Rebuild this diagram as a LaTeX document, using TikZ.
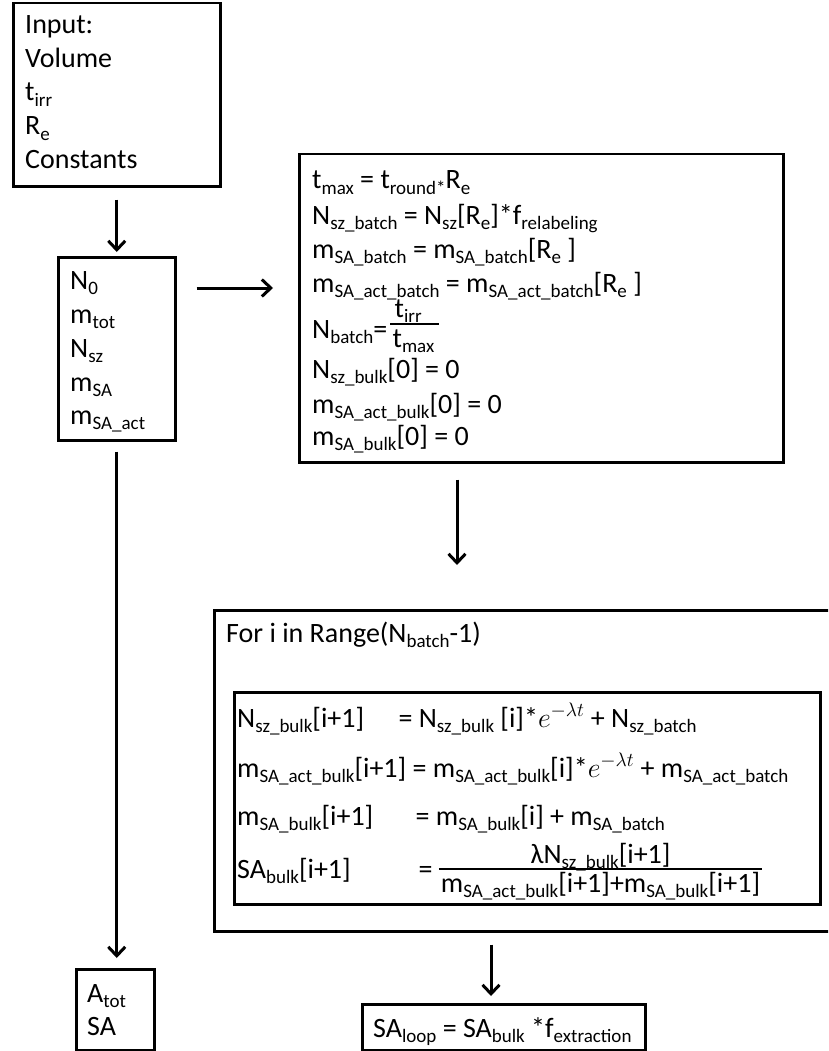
\RequirePackage{fix-cm}
\documentclass[tikz,border=0pt]{standalone}
\usepackage{fontspec}
\setmainfont{Carlito}
\usetikzlibrary{arrows.meta,calc}
\newcommand\sbs[1]{\raisebox{-5.5pt}{\fontsize{19}{19}\selectfont #1}}
\newlength\lhsw
\begin{document}
\settowidth{\lhsw}{\fontsize{28}{34}\selectfont m\sbs{SA\_act\_bulk}[i+1] }
\begin{tikzpicture}[x=1pt,y=-1pt,
  box/.style={draw, line width=2.5pt, rectangle, inner sep=0pt, anchor=north west},
  txt/.style={anchor=base west, inner sep=0pt, font=\fontsize{28}{34}\selectfont},
  arr/.style={line width=3pt, -{Straight Barb[length=9pt,width=17pt]}},
  fracbar/.style={line width=1.3pt}]
\useasboundingbox (0,0) rectangle (828,1051);

% boxes
\node[box, minimum width=207pt, minimum height=183pt] (input) at (12,2) {};
\node[box, minimum width=117pt, minimum height=183pt] (nbox) at (57,256) {};
\node[box, minimum width=484pt, minimum height=308pt] (box3) at (298,153) {};
\begin{scope}
  \clip (0,0) rectangle (828,1051);
  \node[box, minimum width=640pt, minimum height=321pt] (loop) at (213,609) {};
\end{scope}
\node[box, minimum width=586pt, minimum height=212pt] (inner) at (233,691) {};
\node[box, minimum width=78pt, minimum height=81pt] (atot) at (75,968) {};
\node[box, minimum width=283pt, minimum height=46pt] (saloop) at (361,1003) {};

% input text
\node[txt] (in1) at (25,34) {Input:};
\node[txt] (in2) at (25,68) {Volume};
\node[txt] (in3) at (25,101) {t\sbs{irr}};
\node[txt] (in4) at (25,135) {R\sbs{e}};
\node[txt] (in5) at (25,169) {Constants};

% N0 box text
\node[txt] (n1) at (70,289) {N\sbs{0}};
\node[txt] (n2) at (70,323) {m\sbs{tot}};
\node[txt] (n3) at (70,357) {N\sbs{sz}};
\node[txt] (n4) at (70,391) {m\sbs{SA}};
\node[txt] (n5) at (70,424) {m\sbs{SA\_act}};

% box3 text
\node[txt] (b1) at (312,189) {t\sbs{max} = t\sbs{round*}R\sbs{e}};
\node[txt] (b2) at (312,224) {N\sbs{sz\_batch} = N\sbs{sz}[R\sbs{e}]*f\sbs{relabeling}};
\node[txt] (b3) at (312,258) {m\sbs{SA\_batch} = m\sbs{SA\_batch}[R\sbs{e} ]};
\node[txt] (b4) at (312,292) {m\sbs{SA\_act\_batch} = m\sbs{SA\_act\_batch}[R\sbs{e} ]};
\node[txt] (b5) at (312,338) {N\sbs{batch}=};
\node[txt] (b5n) at ($(b5.base east)+(7,-21)$) {t\sbs{irr}};
\node[txt] (b5d) at ($(b5.base east)+(5,9)$) {t\sbs{max}};
\draw[fracbar] ($(b5.base east)+(3,-14)$) -- ($(b5.base east)+(52,-14)$);
\node[txt] (b6) at (312,378) {N\sbs{sz\_bulk}[0] = 0};
\node[txt] (b7) at (312,413) {m\sbs{SA\_act\_bulk}[0] = 0};
\node[txt] (b8) at (312,445) {m\sbs{SA\_bulk}[0] = 0};

% loop text
\node[txt] (for) at (226,642) {For i in Range(N\sbs{batch}-1)};
\node[txt] (r1l) at (237,727) {N\sbs{sz\_bulk}[i+1]};
\node[txt] (r1r) at ($(237,727)+(\lhsw-14pt,0)$) {= N\sbs{sz\_bulk} [i]*$e^{-\lambda t}$ + N\sbs{sz\_batch}};
\node[txt] (r2) at (237,777) {m\sbs{SA\_act\_bulk}[i+1] = m\sbs{SA\_act\_bulk}[i]*$e^{-\lambda t}$ + m\sbs{SA\_act\_batch}};
\node[txt] (r3l) at (237,825) {m\sbs{SA\_bulk}[i+1]};
\node[txt] (r3r) at ($(237,825)+(\lhsw+3pt,0)$) {= m\sbs{SA\_bulk}[i] + m\sbs{SA\_batch}};
\node[txt] (r4l) at (237,878) {SA\sbs{bulk}[i+1]};
\node[txt] (r4eq) at ($(237,878)+(\lhsw+6pt,0)$) {=};
\node[txt] (r4d) at ($(r4eq.base east)+(8,14)$) {m\sbs{SA\_act\_bulk}[i+1]+m\sbs{SA\_bulk}[i+1]};
\draw[fracbar] ($(r4d.base west)+(-2,-23)$) -- ($(r4d.base east)+(2,-23)$);
\node[txt, anchor=base] (r4n) at ($(r4d.base)+(0,-29)$) {λN\sbs{sz\_bulk}[i+1]};

% bottom boxes text
\node[txt] (a1) at (87,1002) {A\sbs{tot}};
\node[txt] (a2) at (87,1035) {SA};
\node[txt] (s1) at (373,1037) {SA\sbs{loop} = SA\sbs{bulk} *f\sbs{extraction}};

% arrows
\draw[arr, shorten <=12pt, shorten >=4pt] (input.south) -- (nbox.north);
\draw[arr] ($(nbox.north east)+(20,32)$) -- ($(box3.north west)+(-25,135)$);
\draw[arr] ($(box3.south west)+(159,16)$) -- ($(loop.north west)+(244,-44)$);
\draw[arr] ($(loop.south west)+(278,12)$) -- ($(saloop.north west)+(130,-7)$);
\draw[arr, shorten <=10pt, shorten >=10pt] (nbox.south) -- (nbox.south |- atot.north);
\end{tikzpicture}
\end{document}
